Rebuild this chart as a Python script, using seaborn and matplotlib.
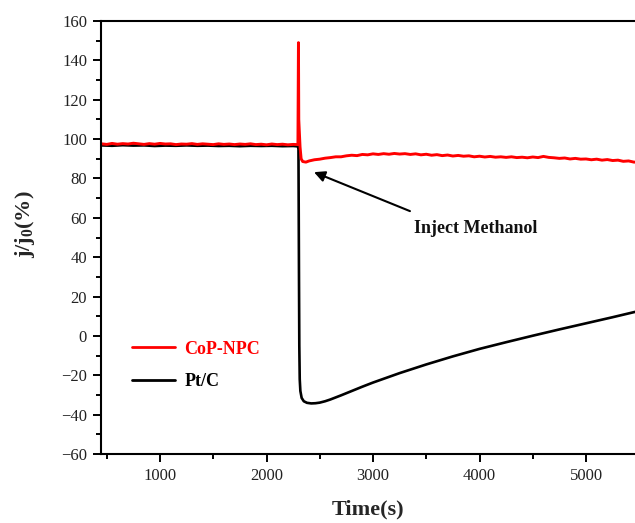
import matplotlib
matplotlib.use("Agg")
import matplotlib.pyplot as plt
from matplotlib.ticker import MultipleLocator
from matplotlib.lines import Line2D
import numpy as np
import pandas as pd
import seaborn as sns

# ---- CoP-NPC chronoamperometry (relative current, %) ----
cop_t_before = list(range(450, 2300, 50)) + [2295]
cop_v_before = [97.6, 97.3, 97.8, 97.4, 97.7, 97.5, 97.9, 97.6, 97.3, 97.7,
                97.4, 97.8, 97.5, 97.6, 97.2, 97.5, 97.4, 97.7, 97.3, 97.6,
                97.4, 97.2, 97.6, 97.3, 97.5, 97.2, 97.5, 97.3, 97.6, 97.2,
                97.4, 97.1, 97.5, 97.2, 97.4, 97.1, 97.3, 97.2]
cop_t_spike = [2300, 2303, 2308, 2315, 2325, 2340, 2370]
cop_v_spike = [149.0, 110.0, 104.0, 96.0, 90.0, 88.6, 88.3]
cop_t_after = list(range(2400, 5500, 50)) + [5460]
cop_v_after = [88.9, 89.5, 89.8, 90.3, 90.6, 91.0, 91.0, 91.5, 91.8, 91.6,
               92.2, 92.0, 92.5, 92.2, 92.6, 92.3, 92.7, 92.4, 92.6, 92.2,
               92.5, 92.0, 92.3, 91.8, 92.1, 91.6, 91.9, 91.4, 91.7, 91.3,
               91.5, 91.0, 91.3, 90.9, 91.2, 90.8, 91.0, 90.7, 91.0, 90.6,
               90.8, 90.5, 90.9, 90.6, 91.2, 90.7, 90.5, 90.2, 90.4, 89.9,
               90.2, 89.8, 89.9, 89.5, 89.8, 89.3, 89.6, 89.1, 89.3, 88.7,
               88.9, 88.3, 88.3]

# ---- Pt/C chronoamperometry (relative current, %) ----
ptc_t_before = list(range(450, 2300, 100)) + [2295]
ptc_v_before = [96.8, 96.6, 96.9, 96.7, 96.8, 96.5, 96.7, 96.6, 96.8, 96.6,
                96.7, 96.5, 96.6, 96.4, 96.6, 96.5, 96.6, 96.4, 96.5, 96.3]
ptc_t_after = [2300, 2302, 2305, 2308, 2312, 2318, 2330, 2350, 2380, 2420,
               2460, 2500, 2550, 2600, 2700, 2800, 2900, 3000, 3250, 3500,
               3750, 4000, 4250, 4500, 4750, 5000, 5250, 5460]
ptc_v_after = [95.0, 70.0, 30.0, -5.0, -22.0, -28.0, -31.5, -33.2, -34.0, -34.3,
               -34.2, -33.9, -33.2, -32.3, -30.2, -28.0, -25.8, -23.7, -18.9, -14.5,
               -10.4, -6.6, -3.2, 0.1, 3.3, 6.4, 9.5, 12.2]

series_names = ["CoP-NPC", "Pt/C"]
series_colors = ["#ff0000", "#000000"]

x_ticks = [1000, 2000, 3000, 4000, 5000]
y_ticks = [-60, -40, -20, 0, 20, 40, 60, 80, 100, 120, 140, 160]

cop = pd.DataFrame({"t": cop_t_before + cop_t_spike + cop_t_after,
                    "j": cop_v_before + cop_v_spike + cop_v_after})
ptc = pd.DataFrame({"t": ptc_t_before + ptc_t_after,
                    "j": ptc_v_before + ptc_v_after})

sns.set_theme(style="ticks")
plt.rcParams["font.family"] = ["Liberation Serif", "DejaVu Serif"]
plt.rcParams["mathtext.fontset"] = "custom"
plt.rcParams["mathtext.rm"] = "Liberation Serif:bold"
plt.rcParams["mathtext.it"] = "Liberation Serif:bold"
plt.rcParams["mathtext.bf"] = "Liberation Serif:bold"

fig = plt.figure(figsize=(6.35, 5.23), dpi=100)
ax = fig.add_axes([101 / 635, 69 / 523, 534 / 635, 433 / 523])

sns.lineplot(data=ptc, x="t", y="j", color=series_colors[1], linewidth=1.9,
             estimator=None, ax=ax)
sns.lineplot(data=cop, x="t", y="j", color=series_colors[0], linewidth=2.1,
             estimator=None, ax=ax)

ax.set_xlim(446, 5460)
ax.set_ylim(-60, 160)
ax.set_xticks(x_ticks)
ax.set_yticks(y_ticks)
ax.xaxis.set_minor_locator(MultipleLocator(500))
ax.yaxis.set_minor_locator(MultipleLocator(10))
ax.tick_params(which="major", direction="out", length=6, width=1.4,
               labelsize=12, pad=4, color="black", labelcolor="#222222")
ax.tick_params(which="minor", direction="out", length=3.3, width=1.4,
               color="black")

for side in ["left", "bottom", "top"]:
    ax.spines[side].set_linewidth(1.5)
    ax.spines[side].set_color("black")
ax.spines["right"].set_visible(False)

ax.set_xlabel("Time(s)", fontsize=16, fontweight="bold")
ax.set_ylabel(r"j/j$_0$(%)", fontsize=16, fontweight="bold")
ax.xaxis.set_label_coords(0.5, -0.104)
ax.yaxis.set_label_coords(-0.12, 0.53)

handles = [Line2D([], [], color=c, linewidth=2.0) for c in series_colors]
ax.legend(handles, series_names, loc="upper left",
          bbox_to_anchor=(0.058, 0.262), frameon=False,
          prop={"family": "Liberation Serif", "weight": "bold", "size": 13},
          labelcolor=series_colors, handlelength=2.4, handletextpad=0.5,
          labelspacing=0.86, borderpad=0, borderaxespad=0)

ax.annotate("", xy=(2446, 83.2), xytext=(3347, 63.4),
            arrowprops=dict(arrowstyle="-|>", color="black", lw=1.5,
                            mutation_scale=16, shrinkA=0, shrinkB=0))
ax.text(3967, 54.8, "Inject Methanol", ha="center", va="center",
        fontsize=13, fontweight="bold", color="#111111")

fig.savefig("out.png", dpi=100)
